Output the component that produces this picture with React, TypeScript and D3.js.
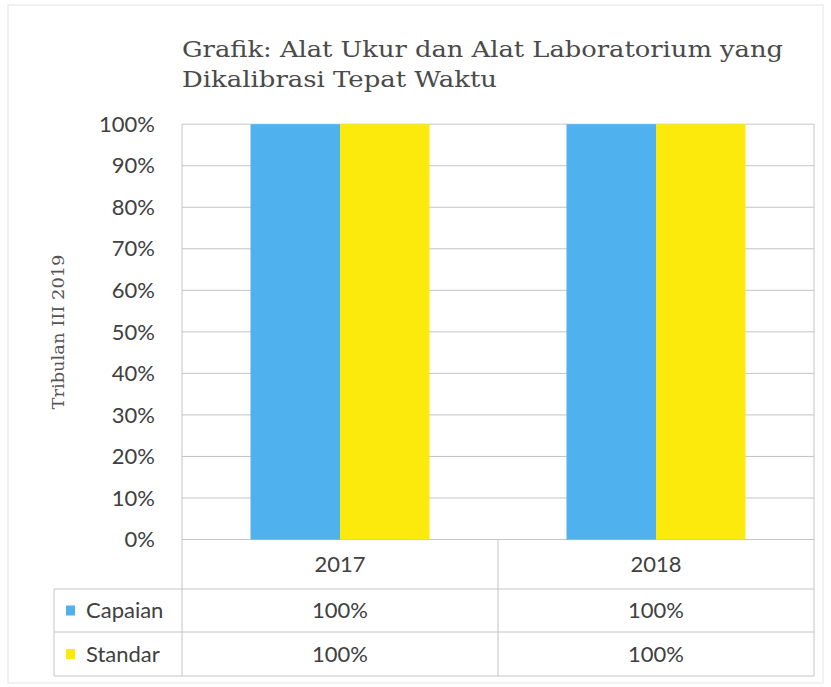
import React from "react";
import * as d3 from "d3";

const categories = ["2017", "2018"];
const seriesNames = ["Capaian", "Standar"];
const capaian = [100, 100];
const standar = [100, 100];
const yTicks = [0, 10, 20, 30, 40, 50, 60, 70, 80, 90, 100];
const colors = ["#4FB2EE", "#FBEA0C"];
const titleLines = ["Grafik: Alat Ukur dan Alat Laboratorium yang", "Dikalibrasi Tepat Waktu"];
const yTitle = "Tribulan III 2019";

export default function App() {
  const W = 831, H = 687;
  const left = 182, right = 814, top = 124.2, bottom = 539.5;
  const row1 = 589, row2 = 632, row3 = 676, tableLeft = 54;
  const series = [capaian, standar];

  const x = d3.scaleBand<string>().domain(categories).range([left, right]).paddingInner(0).paddingOuter(0);
  const groupW = 179;
  const xs = d3.scaleBand<string>().domain(seriesNames).range([0, groupW]).padding(0);
  const y = d3.scaleLinear().domain([0, 100]).range([bottom, top]);
  const fmt = (v: number) => `${v}%`;
  const sans = "Lato, 'Open Sans', sans-serif";
  const grid = "#c4c4c4";
  const fs = 22;

  return (
    <svg width={W} height={H} style={{ position: "absolute", left: 0, top: 0, background: "#fff" }}>
      <rect x={8} y={5} width={815} height={678} fill="#fff" stroke="#e4e4e4" strokeWidth={1} />
      {titleLines.map((t, i) => (
        <text key={i} x={182} y={57 + i * 30} fontFamily="'DejaVu Serif', serif" fontSize={22}
          fill="#4a4a4a" textLength={i === 0 ? 601 : 315} lengthAdjust="spacingAndGlyphs">{t}</text>
      ))}
      <text transform={`translate(64,${332}) rotate(-90)`} textAnchor="middle" fontFamily="'DejaVu Serif', serif"
        fontSize={17} fill="#555" textLength={155} lengthAdjust="spacingAndGlyphs">{yTitle}</text>
      {yTicks.map((t) => (
        <g key={t}>
          <line x1={left} x2={right} y1={y(t)} y2={y(t)} stroke={grid} strokeWidth={1} />
          <text x={155} y={y(t)} dy="0.35em" textAnchor="end" fontFamily={sans} fontSize={fs} fill="#404040">{fmt(t)}</text>
        </g>
      ))}
      <line x1={left} x2={left} y1={top} y2={row3} stroke={grid} />
      <line x1={right} x2={right} y1={top} y2={row3} stroke={grid} />
      {categories.map((c, ci) => {
        const cx = (x(c) as number) + x.bandwidth() / 2 - groupW / 2;
        return seriesNames.map((s, si) => (
          <rect key={c + s} x={cx + (xs(s) as number)} width={xs.bandwidth()} y={y(series[si][ci])}
            height={bottom - y(series[si][ci])} fill={colors[si]} />
        ));
      })}
      {/* data table */}
      <line x1={tableLeft} x2={right} y1={row1} y2={row1} stroke={grid} />
      <line x1={tableLeft} x2={right} y1={row2} y2={row2} stroke={grid} />
      <line x1={tableLeft} x2={right} y1={row3} y2={row3} stroke={grid} />
      <line x1={tableLeft} x2={tableLeft} y1={row1} y2={row3} stroke={grid} />
      {categories.slice(1).map((c) => (
        <line key={c} x1={x(c) as number} x2={x(c) as number} y1={bottom} y2={row3} stroke={grid} />
      ))}
      {categories.map((c) => (
        <text key={c} x={(x(c) as number) + x.bandwidth() / 2} y={(bottom + row1) / 2} dy="0.35em" textAnchor="middle"
          fontFamily={sans} fontSize={fs} fill="#404040">{c}</text>
      ))}
      {seriesNames.map((s, si) => {
        const ry = si === 0 ? (row1 + row2) / 2 : (row2 + row3) / 2;
        return (
          <g key={s}>
            <rect x={66} y={ry - 5} width={9} height={10} fill={colors[si]} />
            <text x={86} y={ry} dy="0.35em" fontFamily={sans} fontSize={fs} fill="#404040">{s}</text>
            {categories.map((c, ci) => (
              <text key={c} x={(x(c) as number) + x.bandwidth() / 2} y={ry} dy="0.35em" textAnchor="middle"
                fontFamily={sans} fontSize={fs} fill="#404040">{fmt(series[si][ci])}</text>
            ))}
          </g>
        );
      })}
    </svg>
  );
}
